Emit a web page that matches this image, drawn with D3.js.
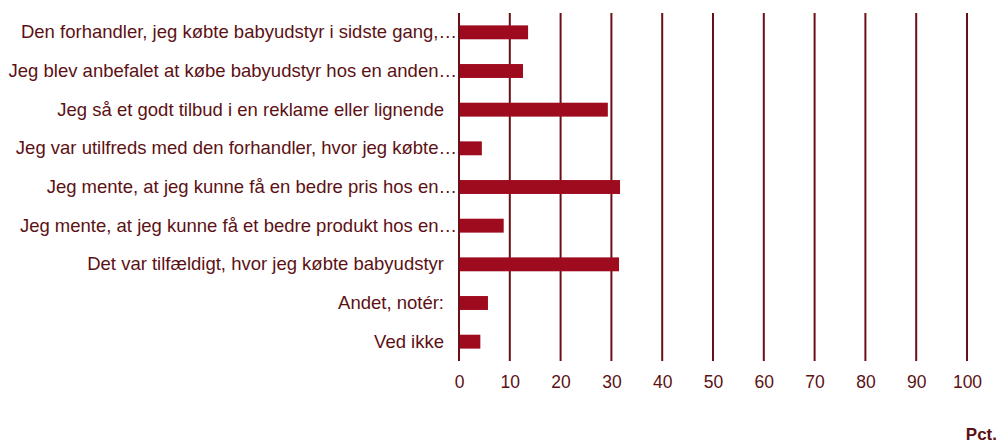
<!DOCTYPE html>
<html>
<head>
<meta charset="utf-8">
<script src="https://cdn.jsdelivr.net/npm/d3@7"></script>
<style>
  body { margin: 0; background: #fff; }
  text { font-family: "Liberation Sans", Arial, sans-serif; }
</style>
</head>
<body>
<div id="chart"></div>
<script>
// Data
var categories = [
  'Den forhandler, jeg købte babyudstyr i sidste gang,…',
  'Jeg blev anbefalet at købe babyudstyr hos en anden…',
  'Jeg så et godt tilbud i en reklame eller lignende',
  'Jeg var utilfreds med den forhandler, hvor jeg købte…',
  'Jeg mente, at jeg kunne få en bedre pris hos en…',
  'Jeg mente, at jeg kunne få et bedre produkt hos en…',
  'Det var tilfældigt, hvor jeg købte babyudstyr',
  'Andet, notér:',
  'Ved ikke'
];
var values = [13.6, 12.6, 29.3, 4.5, 31.7, 8.8, 31.5, 5.7, 4.2];
var ticks = [0, 10, 20, 30, 40, 50, 60, 70, 80, 90, 100];

var width = 999, height = 446;
var margin = { top: 13, left: 459 };
var plotW = 508, plotH = 348;

var barColor = '#9e0b1f';
var gridColor = '#6b0f16';
var textColor = '#5c1114';

var svg = d3.select('#chart').append('svg')
    .attr('width', width)
    .attr('height', height);

var g = svg.append('g')
    .attr('transform', 'translate(' + margin.left + ',' + margin.top + ')');

var x = d3.scaleLinear().domain([0, 100]).range([0, plotW]);
var y = d3.scaleBand().domain(categories).range([0, plotH]).paddingInner(0.64).paddingOuter(0.32);

// vertical grid lines
g.selectAll('line.grid').data(ticks)
    .enter().append('line')
    .attr('class', 'grid')
    .attr('x1', function(d) { return x(d); })
    .attr('x2', function(d) { return x(d); })
    .attr('y1', 0)
    .attr('y2', plotH)
    .attr('stroke', gridColor)
    .attr('stroke-width', 2);

// bars
g.selectAll('rect.bar').data(values)
    .enter().append('rect')
    .attr('class', 'bar')
    .attr('x', x(0) + 1)
    .attr('y', function(d, i) { return y(categories[i]); })
    .attr('width', function(d) { return x(d) - x(0) - 1; })
    .attr('height', y.bandwidth())
    .attr('fill', barColor);

// category labels (truncated ones hang their ellipsis a bit further right)
var yAxis = d3.axisLeft(y).tickSize(0).tickPadding(15);
var yg = g.append('g').call(yAxis);
yg.select('.domain').remove();
yg.selectAll('text')
    .attr('fill', textColor)
    .attr('x', function(d) { return /…$/.test(d) ? -2 : -15; })
    .style('font-size', '18.5px');

// x axis labels
var xAxis = d3.axisBottom(x).tickValues(ticks).tickSize(0).tickPadding(15);
var xg = g.append('g')
    .attr('transform', 'translate(0,' + plotH + ')')
    .call(xAxis);
xg.select('.domain').remove();
xg.selectAll('text')
    .attr('fill', textColor)
    .style('font-size', '17.5px');

// unit label
svg.append('text')
    .attr('x', 997)
    .attr('y', 440)
    .attr('text-anchor', 'end')
    .attr('fill', textColor)
    .style('font-size', '17px')
    .style('font-weight', 'bold')
    .text('Pct.');
</script>
</body>
</html>
